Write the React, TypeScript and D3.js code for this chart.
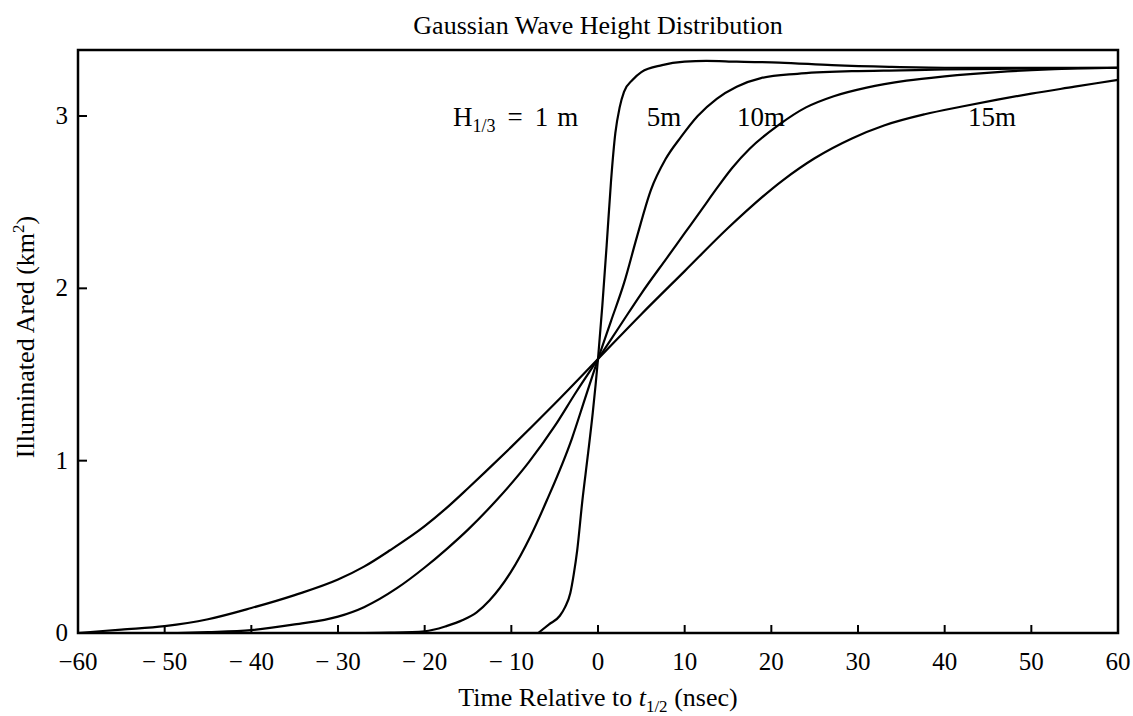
import * as d3 from 'd3';

// tick values and labels
const xTicks = [-60, -50, -40, -30, -20, -10, 0, 10, 20, 30, 40, 50, 60];
const xTickLabels = ['\u221260', '\u2212 50', '\u2212 40', '\u2212 30', '\u2212 20', '\u2212 10', '0', '10', '20', '30', '40', '50', '60'];
const yTicks = [0, 1, 2, 3];

// H1/3 = 1 m
const x1m = [-6.9, -5.65, -4.4, -3.8, -3.2, -2.8, -2.4, -1.8, -1.2, -0.6, 0, 0.5, 1, 1.5, 2, 2.5, 3, 4, 5, 7.4, 10, 12.5, 16, 20.9, 27, 33.6, 40, 50, 60];
const y1m = [0, 0.05, 0.1, 0.15, 0.23, 0.34, 0.48, 0.77, 1.02, 1.28, 1.59, 1.9, 2.25, 2.62, 2.9, 3.05, 3.14, 3.21, 3.255, 3.295, 3.315, 3.32, 3.315, 3.31, 3.295, 3.285, 3.28, 3.28, 3.28];

// 5 m
const x5m = [-27, -24, -20, -17.5, -15.6, -14, -12.5, -10.1, -7.8, -5.9, -3, -1.5, 0, 1.5, 3, 4.5, 6.1, 7.8, 9.6, 11.5, 13.7, 16, 18.8, 23, 29.3, 35, 40, 50, 60];
const y5m = [0, 0.002, 0.01, 0.04, 0.075, 0.12, 0.19, 0.35, 0.56, 0.77, 1.13, 1.36, 1.59, 1.81, 2.03, 2.3, 2.57, 2.75, 2.88, 3.0, 3.1, 3.17, 3.22, 3.245, 3.26, 3.265, 3.27, 3.275, 3.28];

// 10 m
const x10m = [-48.5, -45, -40, -35, -30, -27, -23.2, -20, -17.4, -15, -11.9, -8, -5, -2.5, 0, 2.5, 5, 8, 10, 12, 13.7, 15.5, 17.5, 20.9, 24, 27.2, 31, 35.6, 40, 46.1, 52, 60];
const y10m = [0, 0.005, 0.017, 0.05, 0.095, 0.15, 0.26, 0.38, 0.49, 0.6, 0.76, 0.99, 1.2, 1.4, 1.59, 1.78, 1.97, 2.18, 2.32, 2.46, 2.58, 2.7, 2.81, 2.95, 3.05, 3.115, 3.165, 3.205, 3.23, 3.255, 3.27, 3.28];

// 15 m
const x15m = [-60, -55, -50, -45, -40, -35, -30, -27, -24, -20, -17.6, -15, -13, -10, -5, 0, 5, 10, 15, 21.4, 25, 29.3, 33, 37.7, 42, 46.1, 50, 55, 60];
const y15m = [0, 0.02, 0.04, 0.08, 0.145, 0.22, 0.31, 0.385, 0.48, 0.62, 0.72, 0.84, 0.935, 1.08, 1.33, 1.59, 1.85, 2.1, 2.35, 2.63, 2.755, 2.87, 2.945, 3.01, 3.055, 3.095, 3.13, 3.17, 3.21];

const seriesX = [x1m, x5m, x10m, x15m];
const seriesY = [y1m, y5m, y10m, y15m];

const W = 1133;
const H = 716;
const margin = { top: 50, right: 15, bottom: 83, left: 78 };
const font = '"Liberation Serif", "DejaVu Serif", serif';

export default function App() {
  const x = d3.scaleLinear().domain([-60, 60]).range([margin.left, W - margin.right]);
  const y = d3.scaleLinear().domain([0, 3.383]).range([H - margin.bottom, margin.top]);

  const line = d3.line<[number, number]>()
    .x(d => x(d[0]))
    .y(d => y(d[1]))
    .curve(d3.curveMonotoneX);

  const y0 = y(0);
  const x0 = x(-60);

  return (
    <svg width={W} height={H} style={{ position: 'absolute', left: 0, top: 0, background: '#fff' }} fontFamily={font}>
      <text x={598} y={34} textAnchor="middle" fontSize={26}>Gaussian Wave Height Distribution</text>

      {/* curves */}
      {seriesX.map((xs, i) => (
        <path key={i}
          d={line(xs.map((v, j) => [v, seriesY[i][j]] as [number, number])) || ''}
          fill="none" stroke="#000" strokeWidth={2.2} />
      ))}

      {/* frame */}
      <rect x={x(-60)} y={margin.top} width={x(60) - x(-60)} height={y0 - margin.top}
        fill="none" stroke="#000" strokeWidth={2.5} />

      {/* x ticks */}
      {xTicks.map((t, i) => (
        <g key={'x' + t}>
          {t > -60 && t < 60 && <line x1={x(t)} x2={x(t)} y1={y0} y2={y0 - 8} stroke="#000" strokeWidth={2} />}
          <text x={x(t)} y={670} textAnchor="middle" fontSize={25}>{xTickLabels[i]}</text>
        </g>
      ))}

      {/* y ticks */}
      {yTicks.map(t => (
        <g key={'y' + t}>
          {t > 0 && <line x1={x0} x2={x0 + 9} y1={y(t)} y2={y(t)} stroke="#000" strokeWidth={2} />}
          <text x={68} y={y(t) + 8} textAnchor="end" fontSize={25}>{t}</text>
        </g>
      ))}

      {/* curve labels */}
      <text x={453} y={126} fontSize={27}>
        H<tspan fontSize={18} dy={6}>1/3</tspan>
        <tspan dy={-6} dx={12}>=</tspan>
        <tspan dx={12}>1</tspan>
        <tspan dx={9}>m</tspan>
      </text>
      <text x={664} y={126} textAnchor="middle" fontSize={27}>5m</text>
      <text x={761} y={126} textAnchor="middle" fontSize={27}>10m</text>
      <text x={992} y={126} textAnchor="middle" fontSize={27}>15m</text>

      {/* axis titles */}
      <text x={598} y={706} textAnchor="middle" fontSize={26}>
        Time Relative to <tspan fontStyle="italic">t</tspan><tspan fontSize={17} dy={6}>1/2</tspan><tspan dy={-6}> (nsec)</tspan>
      </text>
      <text transform={`translate(34, 337) rotate(-90)`} textAnchor="middle" fontSize={26}>
        Illuminated Ared (km<tspan fontSize={17} dy={-10}>2</tspan><tspan dy={10}>)</tspan>
      </text>
    </svg>
  );
}
